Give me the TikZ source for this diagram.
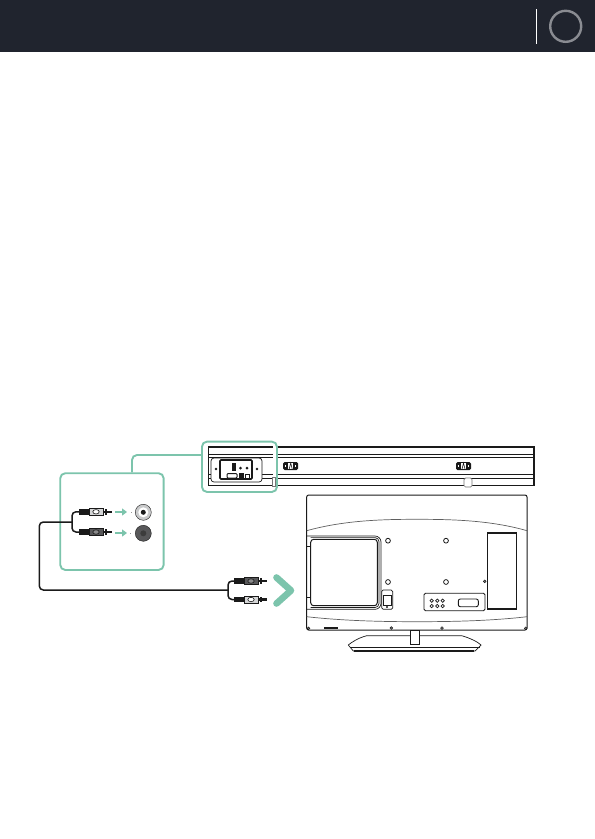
\documentclass[tikz,border=0pt]{standalone}
\usetikzlibrary{arrows.meta}
\definecolor{hdr}{HTML}{20242E}
\definecolor{ringgrey}{HTML}{8A8C92}
\definecolor{mint}{HTML}{7CC4AC}
\definecolor{ink}{HTML}{1A1A1A}
\definecolor{sockdark}{HTML}{58585A}
\definecolor{socklight}{HTML}{C9CACB}
\definecolor{bodylight}{HTML}{D4D5D6}
\tikzset{
  calloutbox/.style={draw=mint,line width=1.9pt,rounded corners=5pt,inner sep=0pt,anchor=north west},
  calloutline/.style={draw=mint,line width=1.9pt,rounded corners=5pt},
  cable/.style={draw=ink,line width=1.5pt,rounded corners=4pt},
  fine/.style={draw=ink,line width=0.7pt},
  med/.style={draw=ink,line width=1pt},
  heavy/.style={draw=ink,line width=1.6pt},
  hole/.style={circle,draw=ink,line width=0.8pt,minimum size=4.8pt,inner sep=0pt},
  screw/.style={circle,draw=ink,fill=ink!60,line width=0.5pt,minimum size=2.8pt,inner sep=0pt},
  dotb/.style={circle,fill=ink,minimum size=3pt,inner sep=0pt},
  jack/.style={circle,draw=ink,line width=0.7pt,minimum size=3.4pt,inner sep=0pt},
  socket/.style={circle,minimum size=16pt,inner sep=0pt},
  flow/.style={-{Triangle[length=5pt,width=7pt]},draw=mint,line width=2pt},
  plug/.pic={
    \fill[ink] (0,-2.8) rectangle (10,2.8);
    \draw[ink,line width=0.7pt,fill=\pgfkeysvalueof{/tikz/plugbody}] (10,-3.6) -- (24,-3.6) -- (24,3.6) -- (10,3.6) -- cycle;
    \draw[ink,line width=0.6pt,fill=\pgfkeysvalueof{/tikz/plugeye}] (17,0) ellipse (3.2pt and 2.2pt);
    \fill[ink] (24,-1.2) rectangle (33,1.2);
    \fill[ink] (26,-2.8) rectangle (27.6,2.8);
  }
}
\pgfkeyssetvalue{/tikz/plugbody}{bodylight}
\pgfkeyssetvalue{/tikz/plugeye}{white}
\begin{document}
\begin{tikzpicture}[x=1pt,y=-1pt]
\useasboundingbox (0,0) rectangle (595,839);
% header
\fill[hdr] (0,0) rectangle (595,52);
\draw[white,line width=1pt] (536.3,9) -- (536.3,43.5);
\node[circle,draw=ringgrey,line width=2.4pt,minimum size=31pt,inner sep=0pt] (badge) at (565.7,26.3) {};

% sound bar
\draw[heavy] (208,447) -- (534,447);
\draw[fine] (208,454) -- (534,454);
\draw[med] (208,457.5) -- (534,457.5);
\draw[med] (208,474) -- (534,474);
\draw[fine] (208,478) -- (534,478);
\draw[med] (208,485.7) -- (534,485.7);
\draw[fine] (208,447) -- (208,485.7);
\draw[line width=1.8pt,ink] (534,446.2) -- (534,486.4);
% clips
\foreach \cx in {290.7,463.5}{
  \fill[ink,rounded corners=1.5pt] (\cx-7.5,462) rectangle (\cx+7.5,470);
  \fill[white] (\cx-2.6,463) rectangle (\cx+2.6,469);
  \draw[ink,line width=0.6pt] (\cx-1.5,469) -- (\cx,463) -- (\cx+1.5,469);
  \fill[white] (\cx-5.6,465.4) rectangle (\cx-4.4,466.6);
  \fill[white] (\cx+4.4,465.4) rectangle (\cx+5.6,466.6);
}
\draw[fine,draw=ink!60,fill=white,rounded corners=1.5pt] (464,478) rectangle (472,487);
% panel
\fill[white] (273,442) rectangle (278,490);
\draw[fine,rounded corners=3pt,fill=white] (211,458) rectangle (262,482);
\draw[heavy,rounded corners=1pt,fill=white] (220,460) rectangle (252,479);
\node[dotb,minimum size=2.8pt] (pl) at (216,469) {};
\node[dotb,minimum size=2.8pt] (pr) at (257,469) {};
\fill[ink] (232,463) rectangle (236,471);
\node[dotb] (pa) at (240.5,468) {};
\node[dotb] (pb) at (247,468) {};
\draw[med,rounded corners=1pt] (227,473.5) rectangle (237,478);
\fill[ink] (239,473) rectangle (244,478);
\draw[med] (245,474) rectangle (249,479);
\draw[fine,draw=ink!60,fill=white] (272,477) rectangle (275,486);

% TV
\draw[med,rounded corners=2pt] (306.7,495) rectangle (527,630);
\draw[fine,draw=ink!70] (306.7,530.7) .. controls (345,520) and (385,519.3) .. (416.7,519.3) .. controls (450,519.3) and (490,520) .. (527,530.7);
\draw[fine,draw=ink!70] (306.7,616.7) .. controls (345,621) and (385,621.7) .. (416.7,621.7) .. controls (450,621.7) and (490,621) .. (527,616.7);
\draw[fine,rounded corners=6pt] (306.7,536) -- (381,536) -- (381,609.3) -- (306.7,609.3);
\draw[med,rounded corners=3pt] (310.7,539.3) rectangle (377.3,605.7);
\draw[fine,rounded corners=4pt] (310.7,537.6) -- (379,537.6) -- (379,607.5) -- (310.7,607.5);
\draw[fine] (306.7,546.5) -- (310.7,546.5) (306.7,597) -- (310.7,597);
\node[hole] (h1) at (388,540.7) {};
\node[hole] (h2) at (446,540.7) {};
\node[hole] (h3) at (388,582) {};
\node[hole] (h4) at (446,582) {};
\node[screw] (s0) at (484.7,581.3) {};
\node[screw] (s1) at (308.5,628.3) {};
\node[screw] (s2) at (391.3,628) {};
\node[screw] (s3) at (442,628) {};
\node[screw] (s4) at (525.7,628.3) {};
\draw[heavy] (324,628) -- (337.7,628);
% switch
\draw[fine,rounded corners=1.5pt] (381.7,590) rectangle (392.7,609.3);
\draw[med] (383.5,595) rectangle (391,605);
\node[dotb,minimum size=2.4pt] (sw) at (387,607) {};
% connector panel
\draw[fine,line width=0.8pt,rounded corners=1.5pt] (424,593.3) rectangle (485,610.7);
\foreach \jx/\jn in {431.7/a,437.3/b,442.7/c}{
  \node[jack] (j\jn1) at (\jx,600.7) {};
  \node[jack] (j\jn2) at (\jx,606) {};
}
\draw[fine,line width=0.9pt,rounded corners=2pt] (458.3,599) rectangle (478.3,606.7);
% right box
\draw[fine] (487,532.7) rectangle (516.7,609.3);
\draw[heavy] (487,532.7) -- (516.7,532.7);
\draw[med] (487,608.5) -- (516.7,608.5);
% stand
\draw[fine,fill=white] (366.7,635.7) -- (461.7,635.7) .. controls (470,638) and (478,642) .. (481,645) -- (475,651) -- (353.3,651) -- (348.3,645) .. controls (352,642) and (358,638) .. (366.7,635.7) -- cycle;
\draw[fine] (350,647) -- (479.5,647);
\draw[heavy] (354,651) -- (474,651);
\draw[fine,fill=white] (410,630.3) rectangle (419,644.3);

% callouts
\node[calloutbox,fill=white,minimum width=103.4pt,minimum height=96.7pt] (bigbox) at (59.3,472.3) {};
\node[calloutbox,minimum width=75pt,minimum height=50.3pt] (smallbox) at (201,440.7) {};
\coordinate (elbow) at (132,455);
\draw[calloutline] (smallbox.west |- elbow) -- (elbow) -- (elbow |- bigbox.north);

% cable
\coordinate (topjunction) at (72,522);
\coordinate (plugA) at (79,511.8);
\coordinate (plugB) at (79,532);
\coordinate (turn) at (39.3,590);
\coordinate (lowjunction) at (228,590);
\coordinate (plugC) at (234,581);
\coordinate (plugD) at (234,599.5);
\draw[cable] (plugA) -| (topjunction) |- (plugB);
\draw[cable] (topjunction) -- (39.3,522) -- (turn) -- (lowjunction);
\draw[cable] (plugC) -| (lowjunction) |- (plugD);
\pgfkeyssetvalue{/tikz/plugbody}{bodylight}
\pgfkeyssetvalue{/tikz/plugeye}{white}
\pic at (plugA) {plug};
\pgfkeyssetvalue{/tikz/plugbody}{sockdark}
\pgfkeyssetvalue{/tikz/plugeye}{sockdark!70}
\pic at (plugB) {plug};
\begin{scope}[shift={(plugC)},xscale=0.86,yscale=0.9]
\pic {plug};
\end{scope}
\pgfkeyssetvalue{/tikz/plugbody}{bodylight}
\pgfkeyssetvalue{/tikz/plugeye}{white}
\begin{scope}[shift={(plugD)},xscale=0.86,yscale=0.9]
\pic {plug};
\end{scope}

% sockets
\node[socket,fill=socklight,draw=ink,line width=0.4pt] (sockL) at (143.3,512.3) {};
\node[circle,fill=white,minimum size=10pt,inner sep=0pt] (sockLi) at (sockL) {};
\node[circle,fill=ink,minimum size=5pt,inner sep=0pt] (sockLc) at (sockL) {};
\node[socket,fill=sockdark,draw=ink,line width=0.4pt] (sockR) at (143.3,533.3) {};
\node[circle,fill=ink!85,minimum size=6pt,inner sep=0pt] (sockRc) at (sockR) {};
\coordinate (arrAs) at (115,512);
\coordinate (arrAe) at (127,512);
\coordinate (arrBs) at (115,533);
\coordinate (arrBe) at (127,533);
\draw[flow] (arrAs) -- (arrAe);
\draw[flow] (arrBs) -- (arrBe);
\fill[ink!45] (130.6,511.5) rectangle (131.2,513);
\fill[ink!45] (130.3,532.8) rectangle (131.4,533.8);

% chevron
\draw[mint,line width=6.6pt,line cap=round,line join=round] (276.5,577.5) -- (291,590.5) -- (276.5,603.5);
\end{tikzpicture}
\end{document}
